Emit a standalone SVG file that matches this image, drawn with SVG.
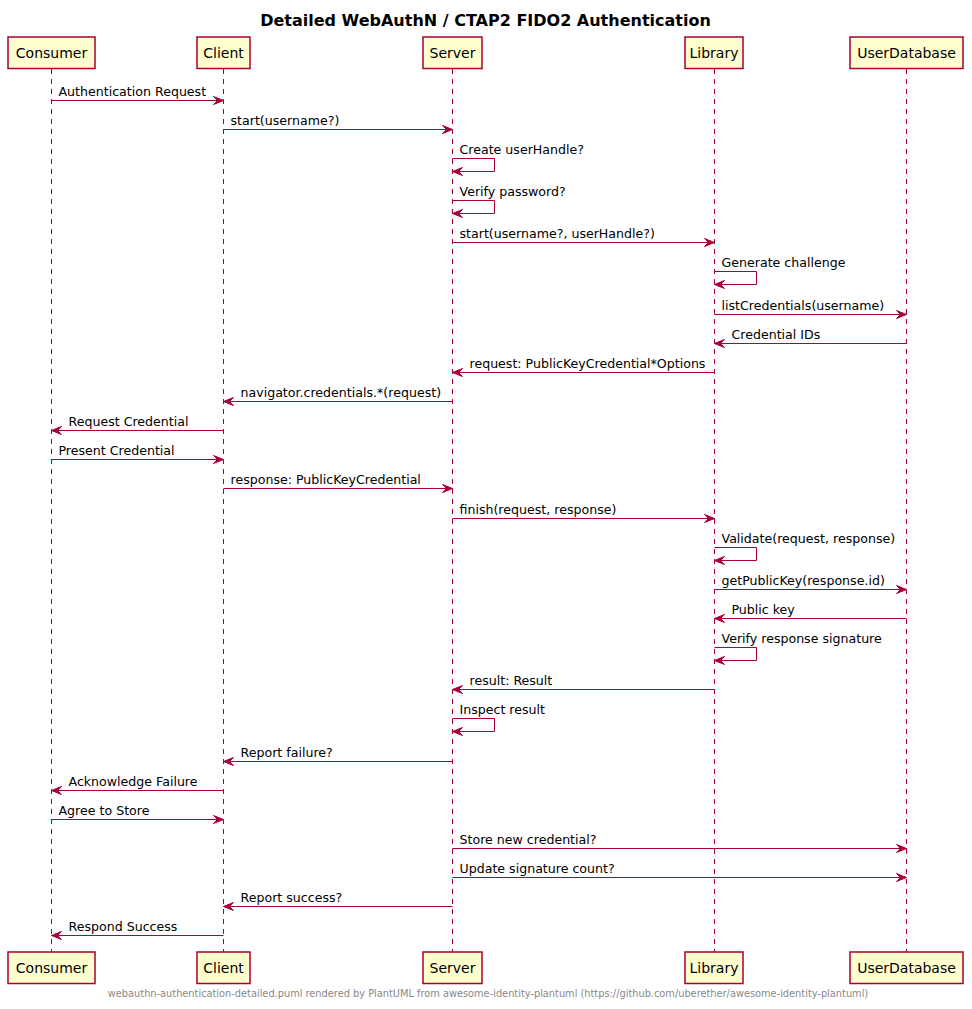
<svg xmlns="http://www.w3.org/2000/svg" width="972" height="1009" viewBox="0 0 972 1009">
  <style>
    .title { font-family: "DejaVu Sans", sans-serif; font-size: 16px; font-weight: bold; fill: #000000; }
    .box { fill: #FEFECE; stroke: #A80036; stroke-width: 1.5; }
    .plabel { font-family: "DejaVu Sans", sans-serif; font-size: 14px; fill: #000000; text-anchor: middle; }
    .life { stroke: #A80036; stroke-width: 1; stroke-dasharray: 5,5; fill: none; }
    .msg { stroke: #A80036; stroke-width: 1; fill: none; marker-end: url(#head); }
    .mlabel { font-family: "DejaVu Sans", sans-serif; font-size: 12.6px; fill: #000000; }
    .footer { font-family: "DejaVu Sans", sans-serif; font-size: 9.8px; fill: #888888; text-anchor: middle; }
  </style>
  <defs>
    <marker id="head" markerUnits="userSpaceOnUse" markerWidth="11" markerHeight="9" refX="10" refY="4" orient="auto" overflow="visible">
      <path d="M0,0 L10,4 L0,8 L4,4 Z" fill="#A80036" stroke="#A80036" stroke-width="1"/>
    </marker>
  </defs>

  <rect width="972" height="1009" fill="#FFFFFF"/>

  <text class="title" x="485.5" y="26" text-anchor="middle">Detailed WebAuthN / CTAP2 FIDO2 Authentication</text>

  <!-- lifelines -->
  <g id="lifelines">
    <line class="life" x1="51.5" y1="69" x2="51.5" y2="952"/>
    <line class="life" x1="223.5" y1="69" x2="223.5" y2="952"/>
    <line class="life" x1="452.5" y1="69" x2="452.5" y2="952"/>
    <line class="life" x1="714.5" y1="69" x2="714.5" y2="952"/>
    <line class="life" x1="906.5" y1="69" x2="906.5" y2="952"/>
  </g>

  <!-- participants (head and foot boxes) -->
  <g id="consumer">
    <rect class="box" x="8" y="37" width="87" height="31.5"/>
    <text class="plabel" x="51.5" y="58">Consumer</text>
    <rect class="box" x="8" y="952" width="87" height="31.5"/>
    <text class="plabel" x="51.5" y="973">Consumer</text>
  </g>
  <g id="client">
    <rect class="box" x="197" y="37" width="53" height="31.5"/>
    <text class="plabel" x="223.5" y="58">Client</text>
    <rect class="box" x="197" y="952" width="53" height="31.5"/>
    <text class="plabel" x="223.5" y="973">Client</text>
  </g>
  <g id="server">
    <rect class="box" x="423" y="37" width="59" height="31.5"/>
    <text class="plabel" x="452.5" y="58">Server</text>
    <rect class="box" x="423" y="952" width="59" height="31.5"/>
    <text class="plabel" x="452.5" y="973">Server</text>
  </g>
  <g id="library">
    <rect class="box" x="685" y="37" width="58" height="31.5"/>
    <text class="plabel" x="714" y="58">Library</text>
    <rect class="box" x="685" y="952" width="58" height="31.5"/>
    <text class="plabel" x="714" y="973">Library</text>
  </g>
  <g id="userdatabase">
    <rect class="box" x="850" y="37" width="113" height="31.5"/>
    <text class="plabel" x="906.5" y="58">UserDatabase</text>
    <rect class="box" x="850" y="952" width="113" height="31.5"/>
    <text class="plabel" x="906.5" y="973">UserDatabase</text>
  </g>

  <!-- messages -->
  <g id="connectors">
    <line class="msg" x1="51.5" y1="100.5" x2="223.5" y2="100.5"/>
    <text class="mlabel" x="58.5" y="95.5">Authentication Request</text>

    <line class="msg" x1="223.5" y1="129.5" x2="452.5" y2="129.5"/>
    <text class="mlabel" x="230.5" y="124.5">start(username?)</text>

    <polyline class="msg" points="452.5,158.5 494.5,158.5 494.5,171.5 452.5,171.5"/>
    <text class="mlabel" x="459.5" y="153.5">Create userHandle?</text>

    <polyline class="msg" points="452.5,200.5 494.5,200.5 494.5,213.5 452.5,213.5"/>
    <text class="mlabel" x="459.5" y="195.5">Verify password?</text>

    <line class="msg" x1="452.5" y1="242.5" x2="714.5" y2="242.5"/>
    <text class="mlabel" x="459.5" y="237.5">start(username?, userHandle?)</text>

    <polyline class="msg" points="714.5,271.5 756.5,271.5 756.5,284.5 714.5,284.5"/>
    <text class="mlabel" x="721.5" y="266.5">Generate challenge</text>

    <line class="msg" x1="714.5" y1="314.5" x2="906.5" y2="314.5"/>
    <text class="mlabel" x="721.5" y="309.5">listCredentials(username)</text>

    <line class="msg" x1="906.5" y1="343.5" x2="714.5" y2="343.5"/>
    <text class="mlabel" x="731.5" y="338.5">Credential IDs</text>

    <line class="msg" x1="714.5" y1="372.5" x2="452.5" y2="372.5"/>
    <text class="mlabel" x="469.5" y="367.5">request: PublicKeyCredential*Options</text>

    <line class="msg" x1="452.5" y1="401.5" x2="223.5" y2="401.5"/>
    <text class="mlabel" x="240.5" y="396.5">navigator.credentials.*(request)</text>

    <line class="msg" x1="223.5" y1="430.5" x2="51.5" y2="430.5"/>
    <text class="mlabel" x="68.5" y="425.5">Request Credential</text>

    <line class="msg" x1="51.5" y1="459.5" x2="223.5" y2="459.5"/>
    <text class="mlabel" x="58.5" y="454.5">Present Credential</text>

    <line class="msg" x1="223.5" y1="488.5" x2="452.5" y2="488.5"/>
    <text class="mlabel" x="230.5" y="483.5">response: PublicKeyCredential</text>

    <line class="msg" x1="452.5" y1="518.5" x2="714.5" y2="518.5"/>
    <text class="mlabel" x="459.5" y="513.5">finish(request, response)</text>

    <polyline class="msg" points="714.5,547.5 756.5,547.5 756.5,560.5 714.5,560.5"/>
    <text class="mlabel" x="721.5" y="542.5">Validate(request, response)</text>

    <line class="msg" x1="714.5" y1="589.5" x2="906.5" y2="589.5"/>
    <text class="mlabel" x="721.5" y="584.5">getPublicKey(response.id)</text>

    <line class="msg" x1="906.5" y1="618.5" x2="714.5" y2="618.5"/>
    <text class="mlabel" x="731.5" y="613.5">Public key</text>

    <polyline class="msg" points="714.5,647.5 756.5,647.5 756.5,660.5 714.5,660.5"/>
    <text class="mlabel" x="721.5" y="642.5">Verify response signature</text>

    <line class="msg" x1="714.5" y1="689.5" x2="452.5" y2="689.5"/>
    <text class="mlabel" x="469.5" y="684.5">result: Result</text>

    <polyline class="msg" points="452.5,718.5 494.5,718.5 494.5,731.5 452.5,731.5"/>
    <text class="mlabel" x="459.5" y="713.5">Inspect result</text>

    <line class="msg" x1="452.5" y1="761.5" x2="223.5" y2="761.5"/>
    <text class="mlabel" x="240.5" y="756.5">Report failure?</text>

    <line class="msg" x1="223.5" y1="790.5" x2="51.5" y2="790.5"/>
    <text class="mlabel" x="68.5" y="785.5">Acknowledge Failure</text>

    <line class="msg" x1="51.5" y1="819.5" x2="223.5" y2="819.5"/>
    <text class="mlabel" x="58.5" y="814.5">Agree to Store</text>

    <line class="msg" x1="452.5" y1="848.5" x2="906.5" y2="848.5"/>
    <text class="mlabel" x="459.5" y="843.5">Store new credential?</text>

    <line class="msg" x1="452.5" y1="877.5" x2="906.5" y2="877.5"/>
    <text class="mlabel" x="459.5" y="872.5">Update signature count?</text>

    <line class="msg" x1="452.5" y1="906.5" x2="223.5" y2="906.5"/>
    <text class="mlabel" x="240.5" y="901.5">Report success?</text>

    <line class="msg" x1="223.5" y1="935.5" x2="51.5" y2="935.5"/>
    <text class="mlabel" x="68.5" y="930.5">Respond Success</text>
  </g>

  <text class="footer" x="488" y="997">webauthn-authentication-detailed.puml rendered by PlantUML from awesome-identity-plantuml (https://github.com/uberether/awesome-identity-plantuml)</text>
</svg>
